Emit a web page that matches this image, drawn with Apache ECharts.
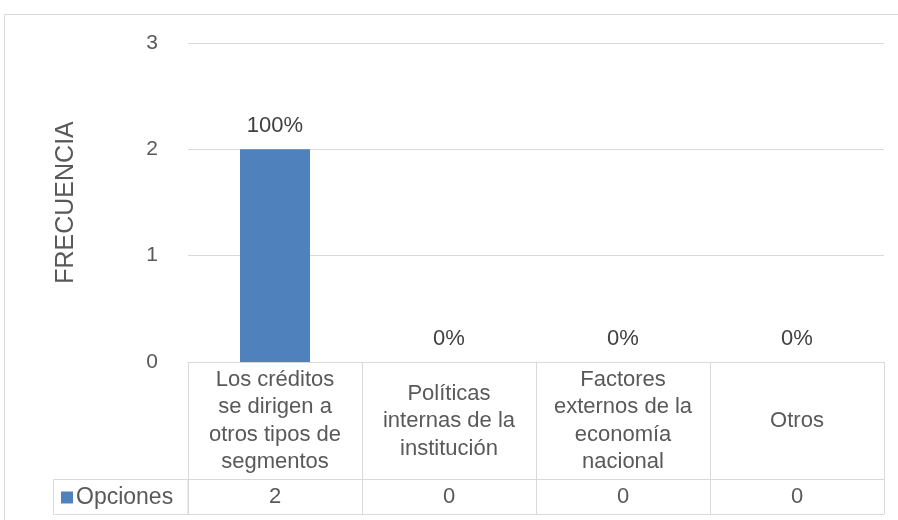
<!DOCTYPE html>
<html>
<head>
<meta charset="utf-8">
<script src="https://cdn.jsdelivr.net/npm/echarts@6/dist/echarts.min.js"></script>
<style>
	html,body{margin:0;padding:0;background:#fff;}
	#main{width:898px;height:520px;}
</style>
</head>
<body>
<div id="main"></div>
<script>
	// datos
	var categorias = ['Los créditos\nse dirigen a\notros tipos de\nsegmentos', 'Políticas\ninternas de la\ninstitución', 'Factores\nexternos de la\neconomía\nnacional', 'Otros'];
	var valores = [2, 0, 0, 0];
	var porcentajes = ['100%', '0%', '0%', '0%'];
	var ticksY = [0, 1, 2, 3];
	var serieNombre = 'Opciones';

	var txt = '#595959';
	var linea = '#d9d9d9';
	var fuente = 'Liberation Sans, Arial, sans-serif';
	var gLeft = 188, gRight = 14, gTop = 43, gBottom = 158;

	var chart = echarts.init(document.getElementById('main'));
	var option = {
		animation: false,
		textStyle: {fontFamily: fuente},
		grid: {left: gLeft, right: gRight, top: gTop, bottom: gBottom},
		legend: {
			data: [serieNombre],
			left: 61, top: 486,
			padding: 0,
			itemWidth: 12, itemHeight: 12, itemGap: 4,
			icon: 'rect',
			textStyle: {color: txt, fontSize: 23, fontFamily: fuente, padding: [0, 0, 0, -2]}
		},
		xAxis: [
			{
				type: 'category',
				data: categorias,
				position: 'bottom',
				axisLine: {show: true, lineStyle: {color: linea, width: 1}},
				axisTick: {show: true, interval: 0, length: 152, lineStyle: {color: linea}},
				axisLabel: {interval: 0, margin: 59, verticalAlign: 'middle', color: txt, fontSize: 22, lineHeight: 27.5, fontFamily: fuente}
			},
			{
				type: 'category',
				data: categorias,
				position: 'bottom',
				offset: 117,
				axisLine: {show: true, lineStyle: {color: linea}},
				axisTick: {show: false},
				axisLabel: {interval: 0, margin: 18, verticalAlign: 'middle', color: txt, fontSize: 22, fontFamily: fuente,
					formatter: function(v, i){ return String(valores[i]); }}
			},
			{
				type: 'category',
				data: categorias,
				position: 'bottom',
				offset: 152,
				axisLine: {show: true, lineStyle: {color: linea}},
				axisTick: {show: false},
				axisLabel: {show: false}
			}
		],
		yAxis: {
			type: 'value',
			min: ticksY[0], max: ticksY[ticksY.length - 1], interval: 1,
			name: 'FRECUENCIA',
			nameLocation: 'middle',
			nameRotate: 90,
			nameGap: 109,
			nameTextStyle: {color: txt, fontSize: 25, fontFamily: fuente},
			axisLine: {show: false},
			axisTick: {show: false},
			splitLine: {lineStyle: {color: linea}},
			axisLabel: {color: txt, fontSize: 21, margin: 30, fontFamily: fuente}
		},
		series: [
			{
				name: serieNombre,
				type: 'bar',
				barWidth: 70,
				itemStyle: {color: '#4F81BD'},
				label: {
					show: true, position: 'top', distance: 12,
					color: '#404040', fontSize: 22, fontFamily: fuente,
					formatter: function(p){ return porcentajes[p.dataIndex]; }
				},
				data: valores
			}
		]
	};
	chart.setOption(option);

	// marco exterior y celda de la leyenda de la tabla
	var x0 = chart.convertToPixel({xAxisIndex: 0}, 0);
	var banda = chart.convertToPixel({xAxisIndex: 0}, 1) - x0;
	var izqTabla = x0 - banda / 2;
	var yBase = chart.convertToPixel({yAxisIndex: 0}, 0);
	chart.setOption({
		graphic: [
			{type: 'rect', silent: true, z: -1, shape: {x: 4.5, y: 14.5, width: 1000, height: 600},
				style: {fill: null, stroke: linea, lineWidth: 1}},
			{type: 'rect', silent: true, shape: {x: 53.5, y: Math.round(yBase + 117) + 0.5, width: izqTabla - 53.5, height: 35},
				style: {fill: null, stroke: linea, lineWidth: 1}}
		]
	});
</script>
</body>
</html>
